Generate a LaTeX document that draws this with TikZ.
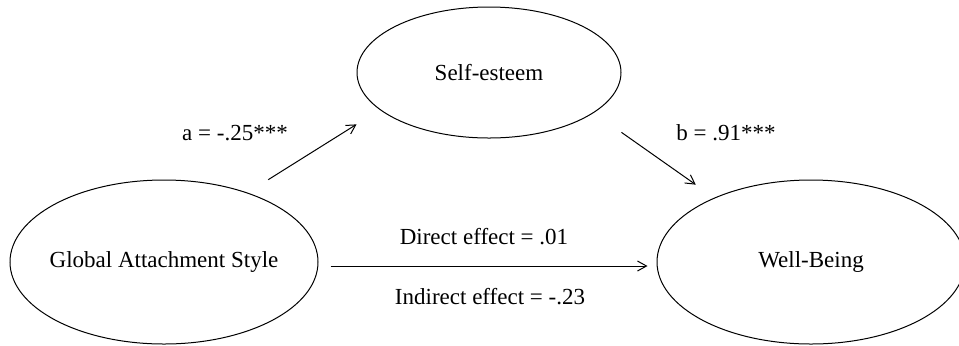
\documentclass[tikz,border=0pt]{standalone}
\usepackage{fontspec}
\setmainfont{Liberation Serif}
\usepackage{tikz}
\usetikzlibrary{shapes.geometric, arrows.meta}

\begin{document}
\begin{tikzpicture}[x=0.5pt, y=-0.5pt, line width=0.5pt,
    font=\fontsize{11.5pt}{13pt}\selectfont,
    latent/.style={draw, ellipse, inner sep=0pt},
    effect/.style={-{Straight Barb[length=4.5pt, width=5pt]}}]
    \useasboundingbox (0, 0) rectangle (959, 345);

    % draw variables
    \node[latent, inner xsep=-3pt, minimum width=154pt, minimum height=82pt] (attach) at (164, 262) {Global Attachment Style};
    \node[latent, minimum width=132pt, minimum height=65.5pt] (esteem) at (489, 72.5) {Self-esteem};
    \node[latent, minimum width=154pt, minimum height=82pt] (wellbeing) at (811, 262) {Well-Being};

    % draw paths
    \draw[effect] ([xshift=-2.5pt, yshift=12pt]attach.north east) -- ([xshift=-19.4pt, yshift=-2.6pt]esteem.south west);
    \draw[effect] ([xshift=19.4pt, yshift=-6.6pt]esteem.south east) -- ([xshift=-3pt, yshift=9.5pt]wellbeing.north west);
    \draw[effect] ([xshift=6pt, yshift=-2pt]attach.east) -- ([xshift=-4.5pt, yshift=-2pt]wellbeing.west);

    % draw coefficients
    \node (alab) at (235, 133) {a = -.25***};
    \node (blab) at (726, 133) {b = .91***};
    \node (direct) at (484, 237) {Direct effect = .01};
    \node (indirect) at (490, 297) {Indirect effect = -.23};
\end{tikzpicture}
\end{document}
